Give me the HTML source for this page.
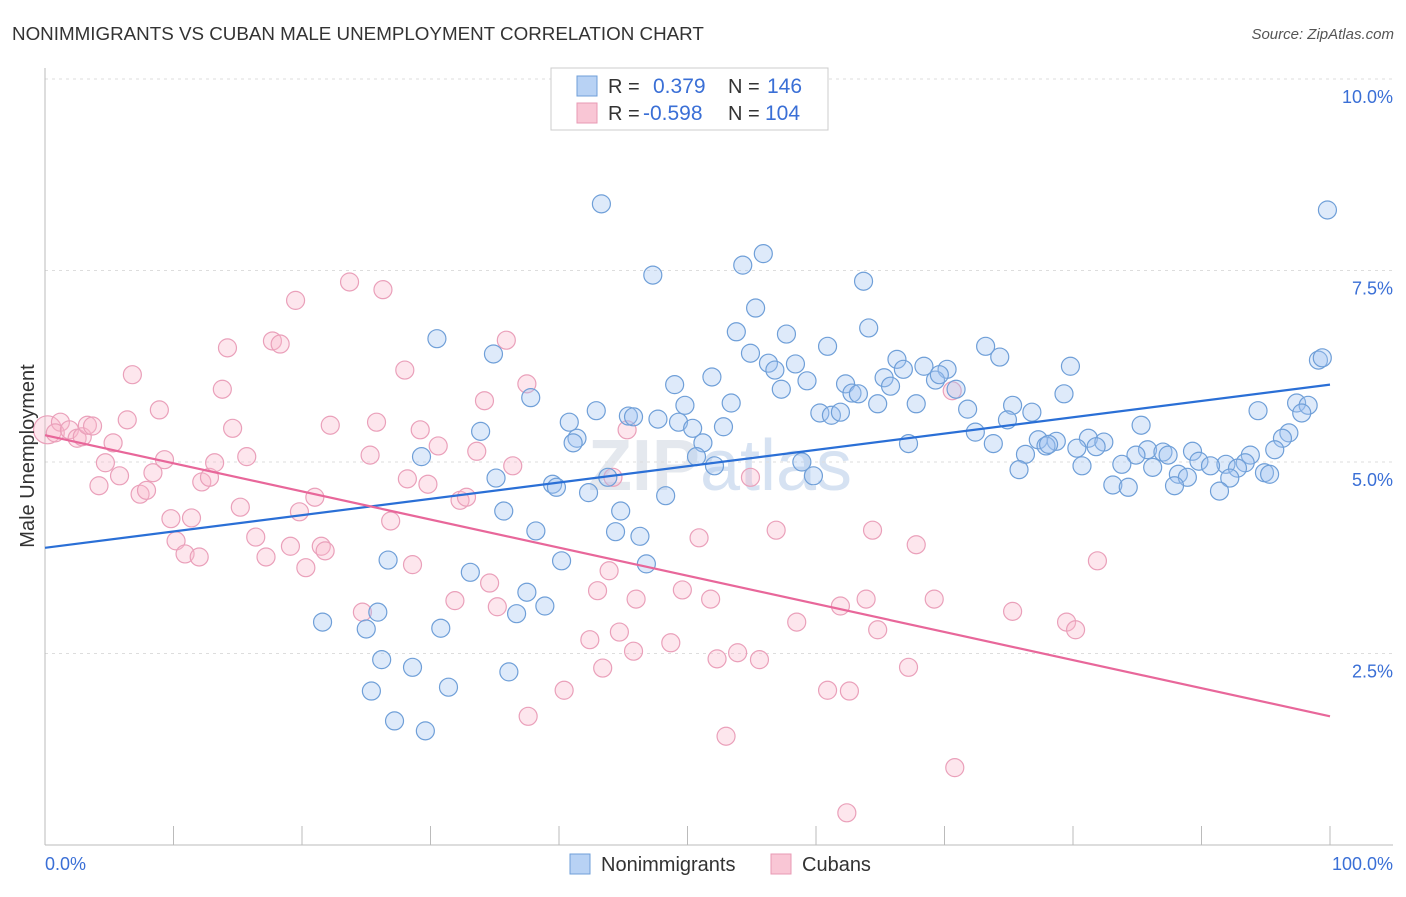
<!DOCTYPE html>
<html><head><meta charset="utf-8">
<style>
body{margin:0;background:#fff;font-family:"Liberation Sans",sans-serif;}
svg text{font-family:"Liberation Sans",sans-serif;}
</style></head>
<body>
<svg id="chart" width="1406" height="892" xmlns="http://www.w3.org/2000/svg">
<text x="12" y="40" font-size="18.8" fill="#333">NONIMMIGRANTS VS CUBAN MALE UNEMPLOYMENT CORRELATION CHART</text>
<text x="1394" y="39" font-size="15" fill="#555" text-anchor="end" font-style="italic">Source: ZipAtlas.com</text>
<text x="720" y="490" font-size="72" fill="#e4e8ee" text-anchor="middle" font-weight="bold">ZIP<tspan fill="#d6e2f2" font-weight="normal">atlas</tspan></text>
<g id="grid"></g>
<g id="axes"></g>
<g id="pinkpts"></g>
<g id="bluepts"></g>
<g id="trends"></g>
<text transform="translate(34,456) rotate(-90)" font-size="20" fill="#333" text-anchor="middle">Male Unemployment</text>
<g>
<rect x="551" y="68" width="277" height="62" fill="#fff" stroke="#ccc"/>
<rect x="577" y="76" width="20" height="20" fill="#b8d2f4" stroke="#6f9fd8"/>
<rect x="577" y="103" width="20" height="20" fill="#f9c6d5" stroke="#e89ab4"/>
<text x="608" y="93" font-size="20" fill="#333">R = </text><text x="653" y="93" font-size="21" fill="#3a6fd6">0.379</text>
<text x="728" y="93" font-size="20" fill="#333">N = </text><text x="767" y="93" font-size="21" fill="#3a6fd6">146</text>
<text x="608" y="120" font-size="20" fill="#333">R = </text><text x="643" y="120" font-size="21" fill="#3a6fd6">-0.598</text>
<text x="728" y="120" font-size="20" fill="#333">N = </text><text x="765" y="120" font-size="21" fill="#3a6fd6">104</text>
</g>
<g>
<rect x="570" y="854" width="20" height="20" fill="#b8d2f4" stroke="#6f9fd8"/>
<text x="601" y="871" font-size="20" fill="#333">Nonimmigrants</text>
<rect x="771" y="854" width="20" height="20" fill="#f9c6d5" stroke="#e89ab4"/>
<text x="802" y="871" font-size="20" fill="#333">Cubans</text>
</g>
</svg>
<script>
const blueX=[43.3,99.8,47.3,55.9,54.3,63.7,55.3,30.5,34.9,53.8,57.7,64.1,60.9,54.9,56.3,58.4,73.2,74.3,66.3,68.4,70.2,79.8,99.1,99.4,51.9,56.8,66.8,65.3,49.0,59.3,62.3,65.8,69.3,69.6,57.3,70.9,37.8,62.8,63.3,79.3,49.8,53.4,64.8,67.8,75.3,97.4,98.3,42.9,60.3,61.2,61.9,71.8,76.8,94.4,97.8,45.4,45.8,47.7,40.8,49.3,50.4,52.8,74.9,85.3,72.4,33.9,96.8,96.3,41.4,41.1,51.2,77.3,78.7,81.2,82.4,77.9,67.2,73.8,78.1,80.3,81.8,85.8,87.0,89.3,84.9,87.4,93.8,95.7,76.3,29.3,50.7,58.9,89.8,91.9,93.4,80.7,83.8,86.2,90.7,92.8,52.1,75.8,88.2,88.9,94.9,95.3,92.2,59.8,43.8,35.1,39.5,39.8,83.1,84.3,87.9,91.4,42.3,48.3,35.7,44.8,38.2,44.4,46.3,26.7,40.2,46.8,33.1,37.5,25.9,38.9,36.7,21.6,25.0,30.8,26.2,28.6,36.1,31.4,25.4,27.2,29.6];
const blueY=[8.37,8.29,7.44,7.72,7.57,7.36,7.01,6.61,6.41,6.70,6.67,6.75,6.51,6.42,6.29,6.28,6.51,6.37,6.34,6.25,6.21,6.25,6.33,6.36,6.11,6.20,6.21,6.10,6.01,6.06,6.02,5.99,6.07,6.14,5.95,5.95,5.84,5.90,5.89,5.89,5.74,5.77,5.76,5.76,5.74,5.77,5.74,5.67,5.64,5.61,5.65,5.69,5.65,5.67,5.64,5.60,5.59,5.56,5.52,5.52,5.44,5.46,5.55,5.48,5.39,5.40,5.38,5.31,5.31,5.25,5.25,5.29,5.27,5.31,5.26,5.21,5.24,5.24,5.23,5.18,5.20,5.16,5.13,5.14,5.09,5.09,5.09,5.16,5.10,5.07,5.07,5.00,5.01,4.97,4.99,4.95,4.97,4.93,4.95,4.92,4.95,4.90,4.84,4.80,4.86,4.84,4.79,4.82,4.80,4.79,4.71,4.67,4.70,4.67,4.69,4.62,4.60,4.56,4.36,4.36,4.10,4.09,4.03,3.72,3.71,3.67,3.56,3.30,3.04,3.12,3.02,2.91,2.82,2.83,2.42,2.32,2.26,2.06,2.01,1.62,1.49];
const pinkX=[0.2,1.2,0.8,1.9,2.5,2.9,3.3,3.7,5.3,6.4,6.8,8.9,4.7,5.8,4.2,8.4,9.3,7.4,7.9,9.8,11.4,10.2,10.9,12.0,12.2,12.8,13.2,13.8,14.2,14.6,15.2,15.7,16.4,17.2,17.7,18.3,19.1,19.5,19.8,20.3,21.0,21.5,21.8,22.2,23.7,24.7,25.3,25.8,26.3,26.9,28.0,28.2,28.6,29.2,29.8,30.6,31.9,32.3,32.8,33.6,34.2,34.6,35.2,35.9,36.4,37.5,37.6,40.4,42.4,43.0,43.4,43.9,44.2,44.7,45.3,46.0,45.8,48.7,49.6,50.9,51.8,52.3,53.0,53.9,54.9,55.6,56.9,58.5,60.9,61.9,62.6,62.4,63.9,64.4,64.8,67.2,67.8,69.2,70.6,70.8,75.3,79.5,80.2,81.9];
const pinkY=[5.42,5.52,5.38,5.42,5.31,5.33,5.48,5.47,5.25,5.55,6.14,5.68,4.99,4.82,4.69,4.86,5.03,4.58,4.63,4.26,4.27,3.97,3.80,3.76,4.74,4.80,4.99,5.95,6.49,5.44,4.41,5.07,4.02,3.76,6.58,6.54,3.90,7.11,4.35,3.62,4.54,3.90,3.84,5.48,7.35,3.04,5.09,5.52,7.25,4.23,6.20,4.78,3.66,5.42,4.71,5.21,3.19,4.50,4.54,5.14,5.80,3.42,3.11,6.59,4.95,6.02,1.68,2.02,2.68,3.32,2.31,3.58,4.80,2.78,5.42,3.21,2.53,2.64,3.33,4.01,3.21,2.43,1.42,2.51,4.80,2.42,4.11,2.91,2.02,3.12,2.01,0.42,3.21,4.11,2.81,2.32,3.92,3.21,5.93,1.01,3.05,2.91,2.81,3.71];
const blueTrend=[3.88,6.01];
const pinkTrend=[5.35,1.68];
const yTicks=[2.5,5.0,7.5,10.0];
const yTickLabels=["2.5%","5.0%","7.5%","10.0%"];
const xTicks=[0,10,20,30,40,50,60,70,80,90,100];

const NS="http://www.w3.org/2000/svg";
const X=v=>45+v*12.85;
const Y=v=>845-v*76.6;
function mk(tag,attrs,parent){const e=document.createElementNS(NS,tag);for(const k in attrs)e.setAttribute(k,attrs[k]);parent.appendChild(e);return e;}
const grid=document.getElementById('grid'),axes=document.getElementById('axes');
yTicks.forEach((t,i)=>{
  const l=mk('line',{x1:45,x2:1393,y1:Y(t),y2:Y(t),stroke:'#ddd','stroke-dasharray':'3,4'},grid);
  
  
  const tx=mk('text',{x:1393,y:Y(t)+24,'font-size':18,fill:'#3a6fd6','text-anchor':'end'},axes);
  tx.textContent=yTickLabels[i];
  
  
});
mk('line',{x1:45,x2:45,y1:68,y2:845,stroke:'#bbb'},axes);
mk('line',{x1:45,x2:1393,y1:845,y2:845,stroke:'#bbb'},axes);
xTicks.forEach(t=>{
  const l=mk('line',{x1:X(t),x2:X(t),y1:826,y2:845,stroke:'#bbb'},axes);
  
  
});
const x0=mk('text',{x:45,y:870,'font-size':18,fill:'#3a6fd6'},axes);x0.textContent='0.0%';


const x1=mk('text',{x:1393,y:870,'font-size':18,fill:'#3a6fd6','text-anchor':'end'},axes);x1.textContent='100.0%';



const pp=document.getElementById('pinkpts');
pinkX.forEach((x,i)=>{
  const c=mk('circle',{cx:X(x),cy:Y(pinkY[i]),r:i===0?14:9,fill:'rgba(248,182,202,0.35)',stroke:'#eaa0ba','stroke-width':1.2},pp);
  
  
});
const bp=document.getElementById('bluepts');
blueX.forEach((x,i)=>{
  const c=mk('circle',{cx:X(x),cy:Y(blueY[i]),r:9,fill:'rgba(160,196,240,0.35)',stroke:'#6f9fd8','stroke-width':1.2},bp);
  
  
});
const tr=document.getElementById('trends');
const bl=mk('line',{x1:X(0),y1:Y(blueTrend[0]),x2:X(100),y2:Y(blueTrend[1]),stroke:'#2a6fd6','stroke-width':2.2},tr);


const pl=mk('line',{x1:X(0),y1:Y(pinkTrend[0]),x2:X(100),y2:Y(pinkTrend[1]),stroke:'#e8679a','stroke-width':2.2},tr);


</script>
</body></html>
